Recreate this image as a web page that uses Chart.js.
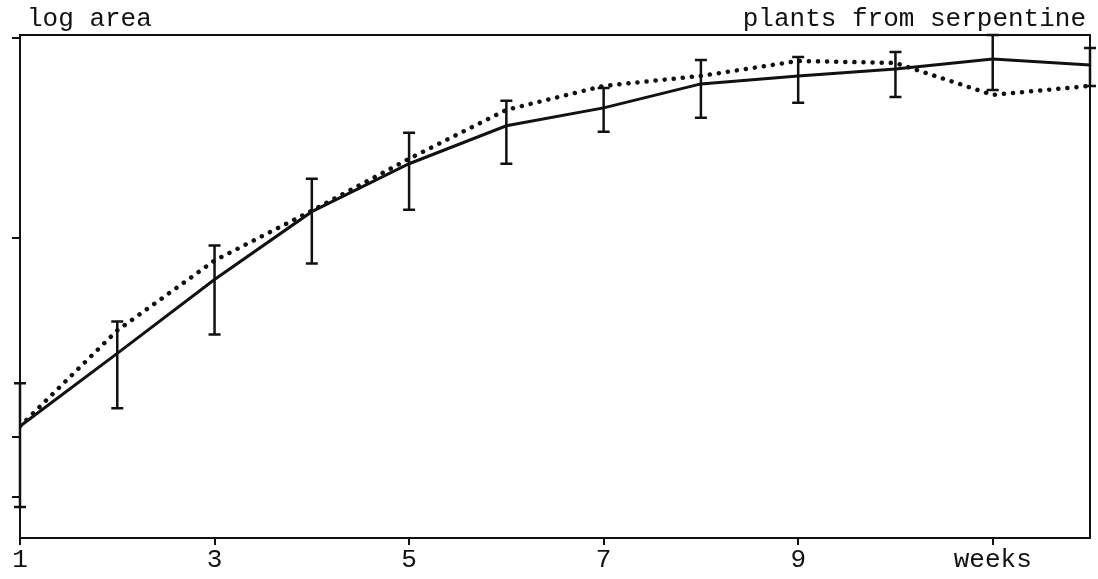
<!DOCTYPE html>
<html>
<head>
<meta charset="utf-8">
<script src="https://cdn.jsdelivr.net/npm/chart.js@4/dist/chart.umd.min.js"></script>
<style>
  html, body { margin: 0; padding: 0; background: #fff; }
  #wrap { width: 1098px; height: 579px; }
</style>
</head>
<body>
<div id="wrap"><canvas id="myChart"></canvas></div>
<script>
// weeks
var weeks = [1, 2, 3, 4, 5, 6, 7, 8, 9, 10, 11, 12];
// log area, solid line (with error bars)
var solidValues = [0.055, 0.42, 0.79, 1.13, 1.37, 1.56, 1.65, 1.77, 1.81, 1.845, 1.895, 1.865];
var errLow  = [-0.35, 0.145, 0.515, 0.87, 1.14, 1.37, 1.53, 1.60, 1.675, 1.705, 1.74, 1.76];
var errHigh = [0.27, 0.58, 0.96, 1.295, 1.525, 1.685, 1.75, 1.89, 1.905, 1.93, 2.015, 1.95];
// log area, dotted line
var dottedValues = [0.055, 0.535, 0.885, 1.135, 1.395, 1.64, 1.76, 1.81, 1.885, 1.875, 1.715, 1.76];
// axis ticks
var xTicks = [1, 3, 5, 7, 9, 11];
var xTickLabels = ['1', '3', '5', '7', '9', 'weeks'];
var yTicks = [-0.3, 0, 1, 2];

var FONT = "'Liberation Mono', 'DejaVu Sans Mono', monospace";

function toPoints(xs, ys) {
    var pts = [];
    for (var i = 0; i < xs.length; i++) {
        pts.push({ x: xs[i], y: ys[i] });
    }
    return pts;
}

var errorBars = {
    id: 'errorBars',
    afterDatasetsDraw: function(chart) {
        var ctx = chart.ctx;
        var xs = chart.scales.x, ys = chart.scales.y;
        ctx.save();
        ctx.strokeStyle = '#111';
        ctx.lineWidth = 2.5;
        for (var i = 0; i < weeks.length; i++) {
            var px = xs.getPixelForValue(weeks[i]);
            var top = ys.getPixelForValue(errHigh[i]);
            var bot = ys.getPixelForValue(errLow[i]);
            ctx.beginPath();
            ctx.moveTo(px, top); ctx.lineTo(px, bot);
            ctx.moveTo(px - 6, top); ctx.lineTo(px + 6, top);
            ctx.moveTo(px - 6, bot); ctx.lineTo(px + 6, bot);
            ctx.stroke();
        }
        ctx.restore();
    }
};

var frameAndTitles = {
    id: 'frameAndTitles',
    afterDraw: function(chart) {
        var ctx = chart.ctx;
        var a = chart.chartArea;
        ctx.save();
        ctx.strokeStyle = '#111';
        ctx.lineWidth = 2;
        ctx.strokeRect(a.left, a.top, a.right - a.left, a.bottom - a.top);
        ctx.fillStyle = '#111';
        ctx.font = '26px ' + FONT;
        ctx.textBaseline = 'alphabetic';
        ctx.textAlign = 'left';
        ctx.fillText('log area', 27, 26);
        ctx.textAlign = 'right';
        ctx.fillText('plants from serpentine', 1086, 26);
        ctx.restore();
    }
};

var ctx = document.getElementById('myChart');
var myChart = new Chart(ctx, {
    type: 'line',
    data: {
        datasets: [{
            label: 'dotted',
            data: toPoints(weeks, dottedValues),
            borderColor: '#111',
            borderWidth: 4.5,
            borderDash: [0.1, 9],
            borderCapStyle: 'round',
            pointRadius: 0,
            tension: 0,
            fill: false
        }, {
            label: 'solid',
            data: toPoints(weeks, solidValues),
            borderColor: '#111',
            borderWidth: 3,
            pointRadius: 0,
            tension: 0,
            fill: false
        }]
    },
    options: {
        responsive: true,
        maintainAspectRatio: false,
        animation: false,
        layout: { padding: { top: 35, right: 8, left: 0, bottom: 0 } },
        plugins: {
            legend: { display: false },
            tooltip: { enabled: false }
        },
        scales: {
            x: {
                type: 'linear',
                min: 1,
                max: 12,
                afterBuildTicks: function(scale) {
                    scale.ticks = xTicks.map(function(v) { return { value: v }; });
                },
                afterFit: function(scale) { scale.height = 41; },
                border: { display: false },
                grid: { drawOnChartArea: false, drawTicks: true, tickLength: 7, tickColor: '#111', lineWidth: 2 },
                ticks: {
                    color: '#111',
                    font: { family: FONT, size: 26 },
                    padding: 0,
                    maxRotation: 0,
                    autoSkip: false,
                    callback: function(value) {
                        var i = xTicks.indexOf(value);
                        return i >= 0 ? xTickLabels[i] : '';
                    }
                }
            },
            y: {
                type: 'linear',
                min: -0.505,
                max: 2.015,
                afterBuildTicks: function(scale) {
                    scale.ticks = yTicks.map(function(v) { return { value: v }; });
                },
                afterFit: function(scale) { scale.width = 20; },
                border: { display: false },
                grid: { drawOnChartArea: false, drawTicks: true, tickLength: 8, tickColor: '#111', lineWidth: 2 },
                ticks: {
                    padding: 0,
                    callback: function() { return ''; }
                }
            }
        }
    },
    plugins: [errorBars, frameAndTitles]
});
</script>
</body>
</html>
